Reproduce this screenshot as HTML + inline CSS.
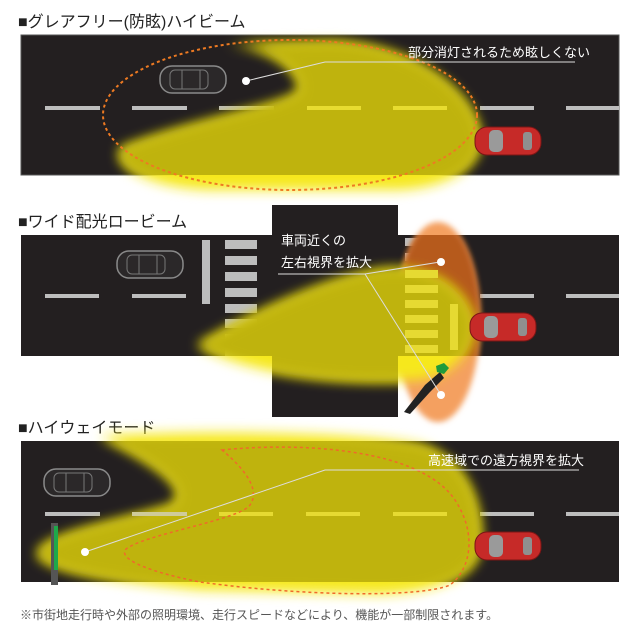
<!DOCTYPE html>
<html><head><meta charset="utf-8"><style>
html,body{margin:0;padding:0;background:#fff;}
svg{display:block;}
text{font-family:"Liberation Sans","Noto Sans CJK JP",sans-serif;}
</style></head><body>
<svg width="640" height="644" viewBox="0 0 640 644" xmlns="http://www.w3.org/2000/svg">
<defs>
<filter id="b6" x="-20%" y="-20%" width="140%" height="140%"><feGaussianBlur stdDeviation="6"/></filter>
<filter id="b3" x="-20%" y="-20%" width="140%" height="140%"><feGaussianBlur stdDeviation="3"/></filter>
<clipPath id="r1"><rect x="21" y="35" width="598" height="140"/></clipPath>
<clipPath id="r2"><rect x="21" y="235" width="598" height="121"/><rect x="272" y="205" width="126" height="212"/></clipPath>
<clipPath id="r3"><rect x="21" y="441" width="598" height="141"/></clipPath>
<g id="gcar">
<rect x="0" y="0" width="66" height="27" rx="12" fill="#2b2829" stroke="#8a8a8a" stroke-width="1.5"/>
<rect x="10" y="4" width="38" height="19" rx="5" fill="none" stroke="#777" stroke-width="1"/>
<line x1="22" y1="4" x2="22" y2="23" stroke="#777"/><line x1="40" y1="4" x2="40" y2="23" stroke="#777"/>
</g>
<g id="rcar">
<rect x="0" y="0" width="66" height="28" rx="12" fill="#c62a28" stroke="#7a1515" stroke-width="1"/>
<rect x="14" y="3" width="14" height="22" rx="5" fill="#9a9a9a"/>
<rect x="48" y="5" width="9" height="18" rx="3" fill="#8f8f8f"/>
</g>
</defs>

<!-- Section 1 -->
<text x="18" y="27" font-size="16" fill="#222">■グレアフリー(防眩)ハイビーム</text>
<rect x="21" y="35" width="598" height="140" fill="#231f20" stroke="#555" stroke-width="1"/>
<g fill="#bdbdbd">
<rect x="45" y="106" width="55" height="4"/><rect x="132" y="106" width="55" height="4"/><rect x="219" y="106" width="55" height="4"/>
<rect x="480" y="106" width="54" height="4"/><rect x="566" y="106" width="53" height="4"/></g>
<use href="#gcar" x="160" y="66"/>
<g filter="url(#b6)">
<path d="M225 45 C270 44 300 72 300 88 C300 104 200 118 122 148 C110 165 150 188 210 190 L400 190 C460 186 480 160 480 140 C480 100 420 44 330 42 Z" fill="#f6e81a"/>
</g>
<g clip-path="url(#r1)"><g filter="url(#b6)">
<path d="M225 45 C270 44 300 72 300 88 C300 104 200 118 122 148 C110 165 150 188 210 190 L400 190 C460 186 480 160 480 140 C480 100 420 44 330 42 Z" fill="#bfb30c"/>
</g></g>
<rect x="307" y="106" width="54" height="4" fill="#e8dc30"/><rect x="393" y="106" width="54" height="4" fill="#e8dc30"/>
<ellipse cx="290" cy="115" rx="187" ry="75" fill="none" stroke="#ee7a22" stroke-width="2" stroke-dasharray="3 3"/>
<use href="#rcar" x="475" y="127"/>
<polyline points="246,81 325,62 575,62" fill="none" stroke="#ddd" stroke-width="1"/>
<circle cx="246" cy="81" r="4" fill="#fff"/>
<text x="408" y="57" font-size="13" fill="#fff">部分消灯されるため眩しくない</text>

<!-- Section 2 -->
<text x="18" y="227" font-size="16" fill="#222">■ワイド配光ロービーム</text>
<rect x="21" y="235" width="598" height="121" fill="#231f20"/>
<rect x="272" y="205" width="126" height="212" fill="#231f20"/>
<g fill="#bdbdbd">
<rect x="45" y="294" width="54" height="4"/><rect x="132" y="294" width="54" height="4"/>
<rect x="480" y="294" width="54" height="4"/><rect x="566" y="294" width="53" height="4"/>
<rect x="202" y="240" width="8" height="64"/>
<rect x="225" y="240" width="32" height="9"/><rect x="225" y="256" width="32" height="9"/><rect x="225" y="272" width="32" height="9"/><rect x="225" y="288" width="32" height="9"/><rect x="225" y="304" width="32" height="9"/><rect x="225" y="319" width="32" height="9"/><rect x="225" y="334" width="32" height="9"/><rect x="225" y="348" width="32" height="8"/>
<rect x="405" y="238" width="33" height="8"/><rect x="405" y="253" width="33" height="8"/>
</g>
<use href="#gcar" x="117" y="251"/>
<!-- orange -->
<g filter="url(#b3)"><ellipse cx="438" cy="322" rx="42" ry="100" fill="#f4a060"/></g>
<g clip-path="url(#r2)"><g filter="url(#b3)"><ellipse cx="438" cy="322" rx="42" ry="100" fill="#b65a1e"/></g></g>
<!-- yellow -->
<g filter="url(#b6)"><path d="M472 318 C460 280 420 265 380 270 C320 280 240 320 198 345 C240 372 330 385 420 380 C455 375 472 350 472 330 Z" fill="#f6e81a"/></g>
<g clip-path="url(#r2)"><g filter="url(#b6)"><path d="M472 318 C460 280 420 265 380 270 C320 280 240 320 198 345 C240 372 330 385 420 380 C455 375 472 350 472 330 Z" fill="#bfb30c"/></g></g>
<g fill="#e6da32">
<rect x="405" y="270" width="33" height="8"/><rect x="405" y="285" width="33" height="8"/><rect x="405" y="300" width="33" height="8"/><rect x="405" y="315" width="33" height="8"/><rect x="405" y="330" width="33" height="8"/><rect x="405" y="345" width="33" height="8"/>
<rect x="450" y="304" width="8" height="46"/></g>
<use href="#rcar" x="470" y="313"/>
<!-- cyclist -->
<path d="M404 412 L425 385 L440 372 L444 378 L430 392 L410 414 Z" fill="#222"/>
<path d="M436 366 L444 363 L449 368 L444 374 L437 372 Z" fill="#1e9b3c"/>
<polyline points="440,262 365,274 278,274" fill="none" stroke="#ddd" stroke-width="1"/>
<line x1="365" y1="274" x2="441" y2="395" stroke="#ddd" stroke-width="1"/>
<circle cx="441" cy="262" r="4" fill="#fff"/><circle cx="441" cy="395" r="4" fill="#fff"/>
<text x="281" y="245" font-size="13" fill="#fff">車両近くの</text>
<text x="281" y="267" font-size="13" fill="#fff">左右視界を拡大</text>

<!-- Section 3 -->
<text x="18" y="433" font-size="16" fill="#222">■ハイウェイモード</text>
<rect x="21" y="441" width="598" height="141" fill="#231f20"/>
<g fill="#bdbdbd"><rect x="45" y="512" width="55" height="4"/><rect x="480" y="512" width="54" height="4"/><rect x="566" y="512" width="53" height="4"/></g>
<use href="#gcar" x="44" y="469"/>
<g filter="url(#b6)"><path d="M100 436 C200 430 360 432 420 445 C470 460 482 510 480 545 C478 575 440 592 380 594 L200 590 C120 582 50 572 38 555 C38 535 120 522 170 506 C192 494 170 470 100 436 Z" fill="#f6e81a"/></g>
<g clip-path="url(#r3)"><g filter="url(#b6)"><path d="M100 436 C200 430 360 432 420 445 C470 460 482 510 480 545 C478 575 440 592 380 594 L200 590 C120 582 50 572 38 555 C38 535 120 522 170 506 C192 494 170 470 100 436 Z" fill="#bfb30c"/></g></g>
<g fill="#e6da32"><rect x="132" y="512" width="55" height="4" fill="#cfcb9a"/><rect x="219" y="512" width="54" height="4"/><rect x="306" y="512" width="54" height="4"/><rect x="393" y="512" width="54" height="4"/></g>
<path d="M222 450 C300 442 420 448 455 500 C478 535 470 570 450 585 C420 598 300 596 200 582 C150 572 120 560 125 550 C140 535 240 520 250 505 C262 488 240 465 222 450 Z" fill="none" stroke="#f06a2a" stroke-width="1.5" stroke-dasharray="3 3"/>
<use href="#rcar" x="475" y="532"/>
<rect x="51" y="523" width="7" height="62" fill="#555"/><rect x="54" y="526" width="4" height="44" fill="#1ea84a"/>
<polyline points="85,552 325,470 579,470" fill="none" stroke="#ddd" stroke-width="1"/>
<circle cx="85" cy="552" r="4" fill="#fff"/>
<text x="428" y="465" font-size="13" fill="#fff">高速域での遠方視界を拡大</text>

<text x="20" y="619" font-size="12" fill="#555">※市街地走行時や外部の照明環境、走行スピードなどにより、機能が一部制限されます。</text>
</svg>
</body></html>
